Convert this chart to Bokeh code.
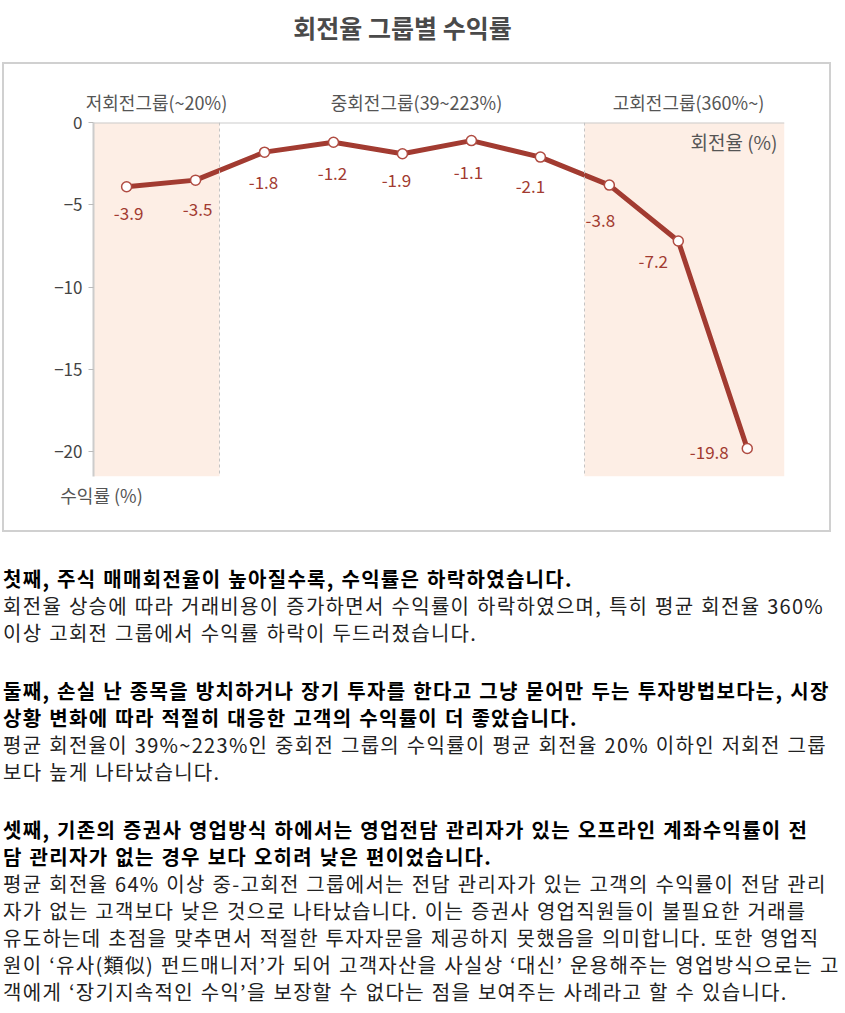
from bokeh.plotting import figure
from bokeh.models import (ColumnDataSource, BoxAnnotation, Span, Label, Div, FixedTicker,
                          Range1d, LinearAxis, InlineStyleSheet)
from bokeh.layouts import column
from bokeh.embed import file_html
from bokeh.resources import INLINE
from bokeh.core.properties import value

# ---------------- data ----------------
point_index = [1, 2, 3, 4, 5, 6, 7, 8, 9, 10]
returns = [-3.9, -3.5, -1.8, -1.2, -1.9, -1.1, -2.1, -3.8, -7.2, -19.8]
group_names = ["저회전그룹(~20%)", "중회전그룹(39~223%)", "고회전그룹(360%~)"]
y_ticks = [0, -5, -10, -15, -20]
title_text = "회전율 그룹별 수익률"
x_axis_name = "회전율 (%)"
y_axis_name = "수익률 (%)"

para_bold = [
    ["첫째, 주식 매매회전율이 높아질수록, 수익률은 하락하였습니다."],
    ["둘째, 손실 난 종목을 방치하거나 장기 투자를 한다고 그냥 묻어만 두는 투자방법보다는, 시장",
     "상황 변화에 따라 적절히 대응한 고객의 수익률이 더 좋았습니다."],
    ["셋째, 기존의 증권사 영업방식 하에서는 영업전담 관리자가 있는 오프라인 계좌수익률이 전",
     "담 관리자가 없는 경우 보다 오히려 낮은 편이었습니다."],
]
para_body = [
    ["회전율 상승에 따라 거래비용이 증가하면서 수익률이 하락하였으며, 특히 평균 회전율 360%",
     "이상 고회전 그룹에서 수익률 하락이 두드러졌습니다."],
    ["평균 회전율이 39%~223%인 중회전 그룹의 수익률이 평균 회전율 20% 이하인 저회전 그룹",
     "보다 높게 나타났습니다."],
    ["평균 회전율 64% 이상 중-고회전 그룹에서는 전담 관리자가 있는 고객의 수익률이 전담 관리",
     "자가 없는 고객보다 낮은 것으로 나타났습니다. 이는 증권사 영업직원들이 불필요한 거래를",
     "유도하는데 초점을 맞추면서 적절한 투자자문을 제공하지 못했음을 의미합니다. 또한 영업직",
     "원이 ‘유사(類似) 펀드매니저’가 되어 고객자산을 사실상 ‘대신’ 운용해주는 영업방식으로는 고",
     "객에게 ‘장기지속적인 수익’을 보장할 수 없다는 점을 보여주는 사례라고 할 수 있습니다."],
]

# ---------------- styles ----------------
label_dx = [2, 2, -1, -1, -6, -3, -10, -9, -25, -38]
label_dy = [27, 29, 30, 31, 27, 32, 29, 35, 20, 4]
FONT = "Noto Sans CJK KR"
RED = "#a23b31"
PINK = "#fdeee5"
W, H = 845, 545
X0, X1 = 0.52, 10.54


def dx_px(px):
    return X0 + (px - 93) * (X1 - X0) / 691.0


def dy_px(py):
    return -(py - 122) * 21.5 / 354.0


src = ColumnDataSource(dict(
    x=point_index, y=returns,
    label=["%.1f" % v for v in returns],
    dx=label_dx, dy=label_dy,
))

p = figure(width=W, height=H, output_backend="svg", toolbar_location=None,
           x_range=Range1d(X0, X1), y_range=Range1d(-21.5, 0),
           x_axis_type=None, min_border_left=93, min_border_right=61,
           min_border_top=122, min_border_bottom=69)
p.margin = 0
p.outline_line_color = None
p.xgrid.visible = False
p.ygrid.visible = False
p.background_fill_color = "white"
p.border_fill_color = "white"

# outer grey box around the chart (drawn with CSS over the figure host)
p.stylesheets = [InlineStyleSheet(css=(
    ":host::after{content:'';position:absolute;left:2px;top:62px;width:829px;height:470px;"
    "border:2px solid #d0d0d0;pointer-events:none;box-sizing:content-box;}"))]

ax = p.yaxis[0]
ax.ticker = FixedTicker(ticks=y_ticks)
ax.axis_line_color = "#cccccc"
ax.axis_line_width = 2
ax.major_tick_line_color = "#bbbbbb"
ax.major_tick_out = 5
ax.major_tick_in = 0
ax.minor_tick_line_color = None
ax.major_label_text_font = FONT
ax.major_label_text_font_size = "17px"
ax.major_label_text_color = "#444444"
ax.major_label_standoff = 6

# group labels as an axis above the plot
group_centers = [dx_px(156), dx_px(416), dx_px(688)]
top_axis = LinearAxis(ticker=FixedTicker(ticks=group_centers),
                      major_label_overrides={c: n for c, n in zip(group_centers, group_names)},
                      axis_line_color=None, major_tick_line_color=None, minor_tick_line_color=None,
                      major_tick_out=0, major_tick_in=0, major_label_standoff=8,
                      major_label_text_font=FONT, major_label_text_font_size="18px",
                      major_label_text_color="#555555")
p.add_layout(top_axis, "above")

# chart title as an outer axis above the group labels
title_pos = [dx_px(402)]
title_axis = LinearAxis(ticker=FixedTicker(ticks=title_pos),
                        major_label_overrides={title_pos[0]: title_text},
                        axis_line_color=None, major_tick_line_color=None,
                        minor_tick_line_color=None, major_tick_out=0, major_tick_in=0,
                        major_label_standoff=41, major_label_text_font=FONT,
                        major_label_text_font_size="25px", major_label_text_font_style="bold",
                        major_label_text_color="#4a4a4a")
p.add_layout(title_axis, "above")

# y-axis name as a bottom axis with a single labelled position
name_pos = [dx_px(101)]
bottom_axis = LinearAxis(ticker=FixedTicker(ticks=name_pos),
                         major_label_overrides={name_pos[0]: y_axis_name},
                         axis_line_color=None, major_tick_line_color=None,
                         minor_tick_line_color=None, major_tick_out=0, major_tick_in=0,
                         major_label_standoff=5, major_label_text_font=FONT,
                         major_label_text_font_size="18px", major_label_text_color="#555555")
p.add_layout(bottom_axis, "below")

# shaded groups
p.add_layout(BoxAnnotation(right=dx_px(219), fill_color=PINK, fill_alpha=1,
                           line_color=None, level="underlay"))
p.add_layout(BoxAnnotation(left=dx_px(584), fill_color=PINK, fill_alpha=1,
                           line_color=None, level="underlay"))

p.add_layout(Span(location=0, dimension="width", line_color="#cccccc", line_width=2))
for sx in (219, 584):
    p.add_layout(Span(location=dx_px(sx), dimension="height", line_color="#c4c4c4",
                      line_width=1, line_dash="3 3"))

p.line("x", "y", source=src, line_color=RED, line_width=5)
p.scatter("x", "y", source=src, size=10, fill_color="white", line_color="#b04c42", line_width=1.5)
p.text("x", "y", text="label", source=src, x_offset="dx", y_offset="dy",
       text_align="center", text_baseline="middle", text_color=RED,
       text_font_size="17px", text_font=value(FONT))

p.add_layout(Label(x=dx_px(777), y=dy_px(141), text=x_axis_name, text_align="right",
                   text_baseline="middle", text_font=FONT, text_font_size="19px",
                   text_color="#555555"))

# ---------------- text block ----------------
parts = []
for i, (b, n) in enumerate(zip(para_bold, para_body)):
    mt = "0" if i == 0 else "31px"
    lines = ["<div style='font-weight:bold;color:#000'>%s</div>" % t for t in b]
    lines += ["<div style='color:#222'>%s</div>" % t for t in n]
    parts.append("<div style='margin-top:%s'>%s</div>" % (mt, "".join(lines)))
html = ("<div style=\"font-family:'Noto Sans CJK KR';font-size:20px;line-height:27px;"
        "letter-spacing:1.3px;word-spacing:1px;white-space:nowrap;padding:20px 0 0 3px;"
        "width:842px\">%s</div>" % "".join(parts))
div = Div(text=html, width=845, height=468, margin=0)

layout = column(p, div, spacing=0, margin=0)
open("out.html", "w").write(file_html(layout, INLINE))
